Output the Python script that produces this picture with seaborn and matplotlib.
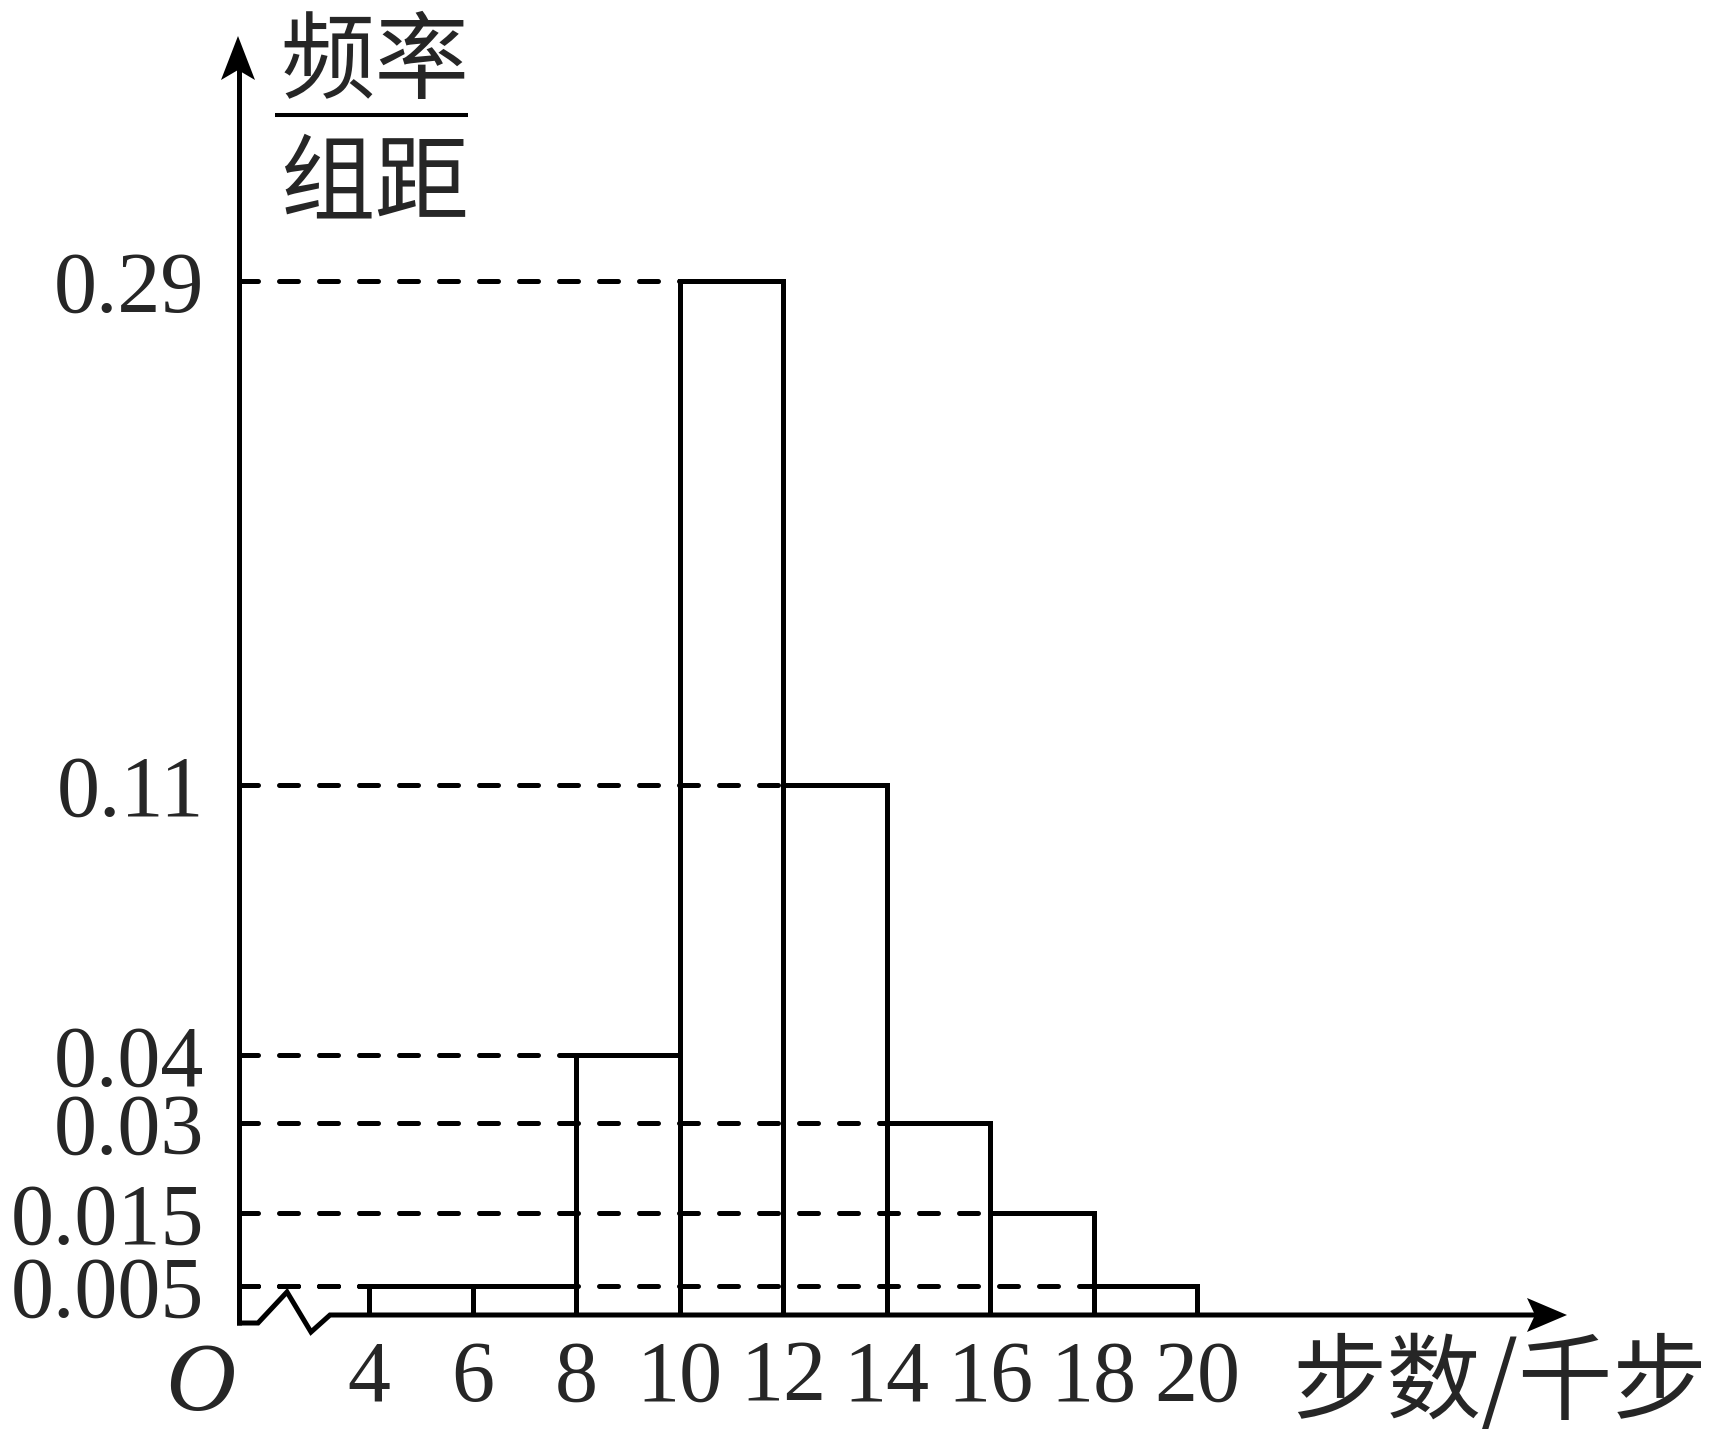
import numpy as np
import matplotlib
matplotlib.use("Agg")
import matplotlib.pyplot as plt
from matplotlib.lines import Line2D
from matplotlib.patches import Polygon
import seaborn as sns

# ---------------- data ----------------
bin_edges = [4, 6, 8, 10, 12, 14, 16, 18, 20]
bin_lefts = [4, 6, 8, 10, 12, 14, 16, 18]
densities = [0.005, 0.005, 0.04, 0.29, 0.11, 0.03, 0.015, 0.005]
ytick_values = [0.005, 0.015, 0.03, 0.04, 0.11, 0.29]
ytick_labels = ["0.005", "0.015", "0.03", "0.04", "0.11", "0.29"]
xtick_values = [4, 6, 8, 10, 12, 14, 16, 18, 20]
xtick_labels = ["4", "6", "8", "10", "12", "14", "16", "18", "20"]
ylabel_num = "频率"
ylabel_den = "组距"
xlabel_text = "步数/千步"
origin_text = "O"

# ---------------- layout (schematic, non-linear axis) ----------------
W, H, DPI = 1711, 1438, 100
scale_vals = [0.0, 0.005, 0.015, 0.03, 0.04, 0.11, 0.29, 0.40]
scale_px = [0, 29, 102, 192, 260, 530, 1034, 1277]
x_lo, x_hi = 1.488, 27.13
ax_left_px, ax_right_px, ax_base_px, ax_top_px = 239, 1566, 1315, 38

sns.set_style("white")
plt.rcParams["font.family"] = ["Liberation Serif", "Noto Sans CJK SC"]

fig = plt.figure(figsize=(W / DPI, H / DPI), dpi=DPI)
ax = fig.add_axes([ax_left_px / W, 1 - ax_base_px / H,
                   (ax_right_px - ax_left_px) / W, (ax_base_px - ax_top_px) / H])
ax.patch.set_alpha(0)

LW = 3.6
sns.histplot(x=bin_lefts, weights=densities, bins=bin_edges, stat="count",
             fill=False, element="bars", color="black", linewidth=LW, ax=ax,
             zorder=3)

def fwd(v):
    return np.interp(v, scale_vals, scale_px)

def inv(p):
    return np.interp(p, scale_px, scale_vals)

ax.set_yscale("function", functions=(fwd, inv))
ax.set_ylim(0, 0.40)
ax.set_xlim(x_lo, x_hi)

hl = ax.hlines(densities, xmin=x_lo, xmax=bin_lefts, colors="black",
               linestyles=[(0, (3.8, 4.2))], linewidth=LW, zorder=2)
hl.set_capstyle("round")

for s in ax.spines.values():
    s.set_visible(False)
ax.set_xlabel("")
ax.set_ylabel("")
ax.grid(False)

FS = 62
ax.set_yticks(ytick_values, ytick_labels)
ax.set_xticks(xtick_values, xtick_labels)
ax.tick_params(axis="y", length=0, pad=25, labelsize=FS)
ax.tick_params(axis="x", length=0, pad=18, labelsize=FS)
ax.minorticks_off()

# ---------------- decorations in pixel coordinates ----------------
def P(x, y):
    return (x / W, 1 - y / H)

def pline(pts, lw=LW):
    xs = [p[0] / W for p in pts]
    ys = [1 - p[1] / H for p in pts]
    fig.add_artist(Line2D(xs, ys, color="black", lw=lw, transform=fig.transFigure,
                          solid_joinstyle="miter", solid_capstyle="butt"))

def ppoly(pts):
    fig.add_artist(Polygon([P(*p) for p in pts], closed=True, color="black",
                           transform=fig.transFigure, lw=0))

# y axis with arrow
pline([(239, 1325), (239, 66)])
ppoly([(238, 36), (255, 80), (238, 70), (221, 80)])
# x axis with break zigzag and arrow
pline([(237, 1323), (258, 1323), (287, 1292), (311, 1332), (330, 1315), (1540, 1315)])
ppoly([(1567, 1315), (1527, 1298), (1535, 1315), (1527, 1332)])

CJK = 68
# y label fraction
fig.text(*P(375, 64), ylabel_num, family=["Noto Sans CJK SC"], fontsize=CJK,
         ha="center", va="center")
pline([(275, 115), (468, 115)], lw=2.9)
fig.text(*P(375, 185), ylabel_den, family=["Noto Sans CJK SC"], fontsize=CJK,
         ha="center", va="center")
# x label
fig.text(*P(1500, 1385), xlabel_text, family=["Noto Sans CJK SC", "Liberation Serif"],
         fontsize=CJK, ha="center", va="center")
# origin
fig.text(*P(200, 1410), origin_text, family=["Liberation Serif"], style="italic",
         fontsize=70, ha="center", va="baseline")

fig.savefig("out.png", dpi=DPI)
